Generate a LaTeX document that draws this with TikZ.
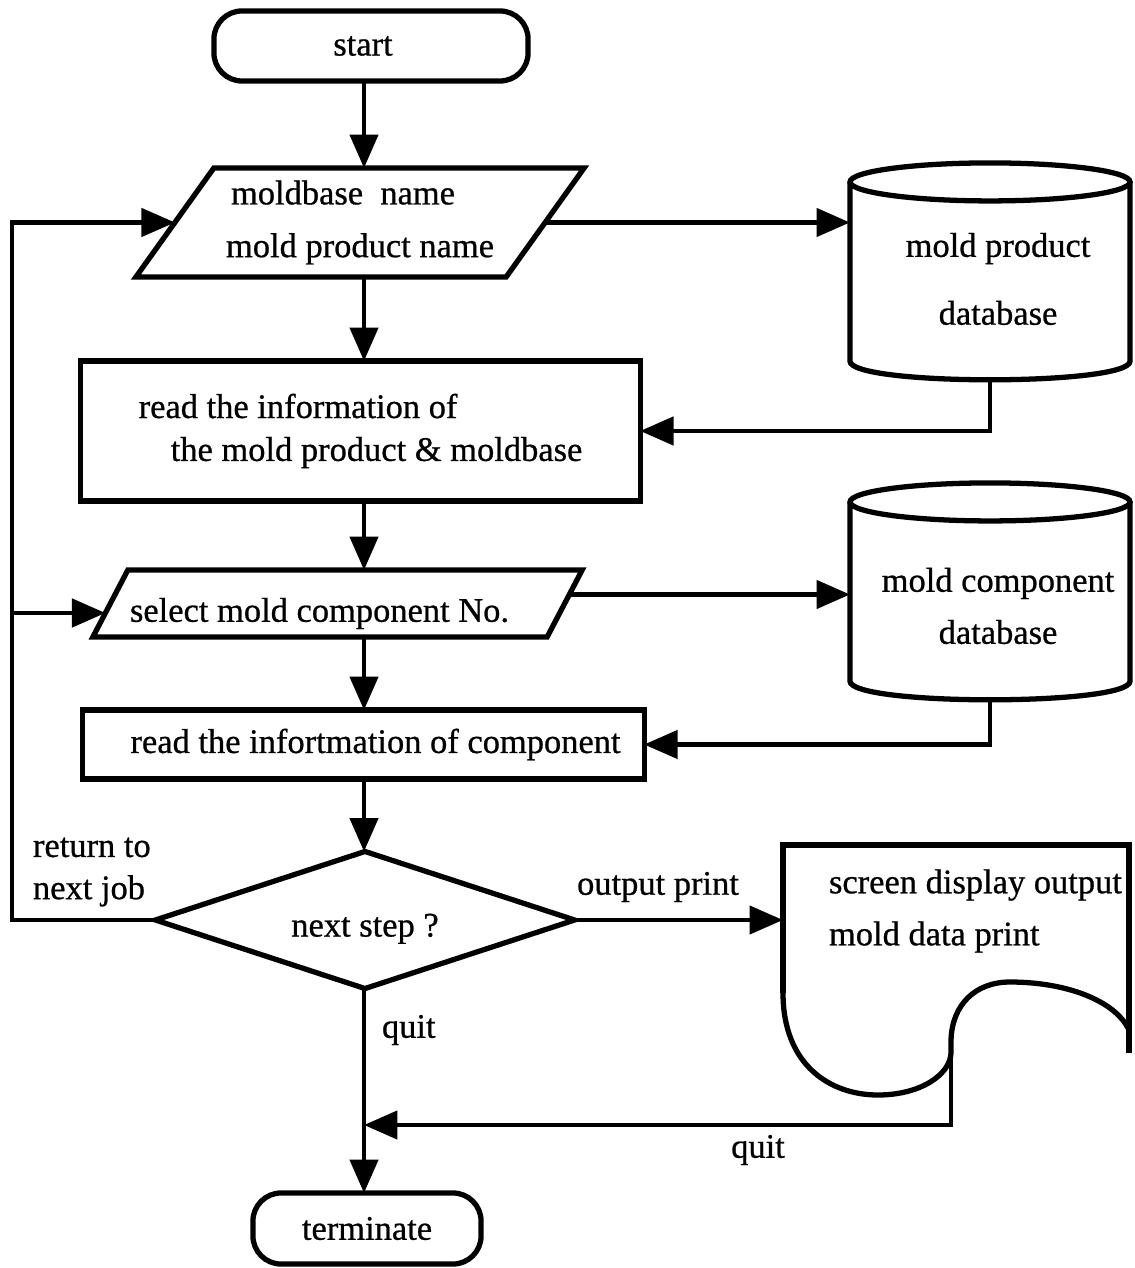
\documentclass[tikz,border=0pt]{standalone}
\usepackage{fontspec}
\setmainfont{Liberation Serif}
\newfontfamily\heavyserif{Liberation Serif}[FakeBold=0.7]
\usetikzlibrary{shapes.geometric,arrows.meta,calc}

\begin{document}
\begin{tikzpicture}[x=0.01cm,y=-0.01cm,
  every node/.style={font=\heavyserif\fontsize{9.8pt}{12pt}\selectfont, inner sep=0pt, outer sep=0pt},
  boxline/.style={draw, line width=1.5pt},
  termbox/.style={boxline, rectangle, rounded corners=8pt},
  procbox/.style={boxline, rectangle},
  decide/.style={boxline, diamond},
  ghost/.style={rectangle, draw=none},
  conn/.style={line width=1.2pt, -{Triangle[length=9.5pt,width=8pt]}},
  lbl/.style={align=left}
]
\useasboundingbox (0,0) rectangle (1134,1268);

% main flow
\coordinate (axis) at (364,0);
\node[termbox, minimum width=3.14cm, minimum height=0.70cm] (start) at (371,46) {start\hspace*{0.16cm}};
\node[ghost, minimum width=4.48cm, minimum height=1.09cm, align=center] (p1) at (360,222.5)
      {moldbase~~name\hspace*{0.34cm}\\[3pt]mold product name};
\draw[boxline] (p1.south west) -- ($(p1.north west)+(78,0)$) -- (p1.north east)
      -- ($(p1.south east)+(-78,0)$) -- cycle;
\node[procbox, minimum width=5.59cm, minimum height=1.40cm, align=left] (b1) at (360.5,431)
      {read the information of\\[0.2pt]\hspace*{0.32cm}the mold product \& moldbase};
\node[ghost, minimum width=4.89cm, minimum height=0.67cm, text height=12.4pt, text depth=2pt] (p2) at (337.5,603.5)
      {select mold component No.\hspace*{0.36cm}};
\draw[boxline] (p2.south west) -- ($(p2.north west)+(35,0)$) -- (p2.north east)
      -- ($(p2.south east)+(-35,0)$) -- cycle;
\node[procbox, minimum width=5.61cm, minimum height=0.69cm] (b2) at (363.5,744.5)
      {\hspace*{0.24cm}read the infortmation of component};
\node[decide, aspect=3.06, minimum width=4.19cm, minimum height=1.37cm,
      text height=11.4pt, text depth=2pt] (dia) at (365,920) {next step ?};
\node[termbox, minimum width=2.28cm, minimum height=0.71cm] (term) at (367,1228.5) {terminate};

% databases
\node[ghost, minimum width=2.80cm, minimum height=2.17cm] (c1) at (990,271.5) {};
\node[align=center] (c1txt) at (998,279) {mold product\\[7.3pt]database};
\node[ghost, minimum width=2.80cm, minimum height=2.17cm] (c2) at (990,591.5) {};
\node[align=center] (c2txt) at (998,606) {mold component\\[2.8pt]database};
\foreach \c in {c1,c2} {
  \draw[boxline] ($(\c.north)+(0,19)$) ellipse [x radius=140, y radius=19];
  \draw[boxline] ($(\c.north west)+(0,19)$) -- ($(\c.south west)+(0,-19)$)
     .. controls ($(\c.south west)+(0,6)$) and ($(\c.south east)+(0,6)$) .. ($(\c.south east)+(0,-19)$)
     -- ($(\c.north east)+(0,19)$);
}

% printed output
\node[ghost, minimum width=3.46cm, minimum height=1.46cm] (doc) at (956,918) {};
\node[lbl, anchor=west] (doctxt) at (829,911) {screen display output\\[2.8pt]mold data print};
\draw[boxline] (783,993) -- (783,845) -- (1129,845) -- (1129,1053);
\draw[boxline] (783,993) .. controls (783,1065) and (830,1095) .. (878,1095)
   .. controls (920,1095) and (950,1075) .. (951,1053) -- (951,1040)
   .. controls (952,1005) and (975,982) .. (1010,982)
   .. controls (1065,982) and (1115,1000) .. (1129,1030);
\coordinate (docq) at (951,1053);
\coordinate (qlevel) at (951,1125);

% connectors along the main axis
\draw[conn] (axis |- start.south) -- (axis |- p1.north);
\draw[conn] (axis |- p1.south) -- (axis |- b1.north);
\draw[conn] (axis |- b1.south) -- (axis |- p2.north);
\draw[conn] (axis |- p2.south) -- (axis |- b2.north);
\draw[conn] (axis |- b2.south) -- (axis |- dia.north);
\draw[conn] (axis |- dia.south) -- (axis |- term.north);

% database links
\coordinate (p1out) at ($(p1.east)+(-39,0)$);
\draw[conn] (p1out) -- (p1out -| c1.west);
\draw[conn] (c1.south) |- (b1.east);
\coordinate (p2out) at ($(p2.east)+(-12.8,-9)$);
\draw[conn] (p2out) -- (p2out -| c2.west);
\draw[conn] (c2.south) |- (b2.east);

% loop back to the next job
\coordinate (loopx) at (12,0);
\coordinate (p1in) at ($(p1.west)+(39,0)$);
\draw[conn] (dia.west) -- (dia.west -| loopx) -- (loopx |- p1in) -- (p1in);
\coordinate (p2in) at ($(p2.west)+(12.5,9.5)$);
\draw[conn] (loopx |- p2in) -- (p2in);

% output and quit paths
\draw[conn] (dia.east) -- (dia.east -| doc.west);
\draw[conn] (docq) -- (qlevel) -- (qlevel -| axis);

% labels
\node[lbl, anchor=west] (lret) at (33,872) {return to\\next job};
\node (lout) at (658,887) {output print};
\node[anchor=west] (lquit1) at (382,1030) {quit};
\node (lquit2) at (758,1150) {quit};
\end{tikzpicture}
\end{document}
